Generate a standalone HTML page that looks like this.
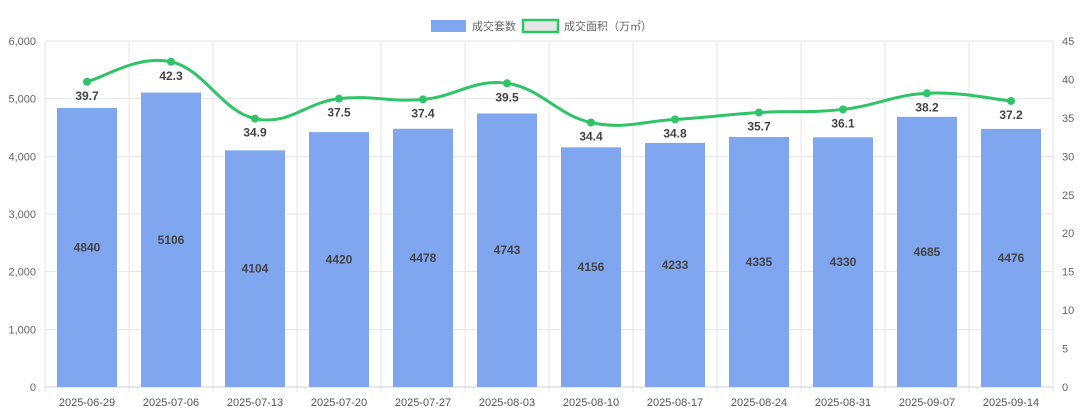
<!DOCTYPE html>
<html><head><meta charset="utf-8"><style>
body{margin:0;background:#fff;}
svg{display:block;font-family:"Liberation Sans","Noto Sans CJK SC",sans-serif;}
</style></head><body>
<svg id="c" width="1080" height="416">
<g id="legend">
<g><rect x="431" y="20" width="35" height="12" fill="#7fa6ee"/><text x="472" y="30" font-size="11" fill="#666">成交套数</text></g>
<g><rect x="523" y="20" width="35" height="12" fill="#e3e6e4" stroke="#2ec467" stroke-width="2.5"/><text x="564" y="30" font-size="11" fill="#666">成交面积（万㎡）</text></g>
</g>
</svg>
<script>
const categories=["2025-06-29","2025-07-06","2025-07-13","2025-07-20","2025-07-27","2025-08-03","2025-08-10","2025-08-17","2025-08-24","2025-08-31","2025-09-07","2025-09-14"];
const units=[4840,5106,4104,4420,4478,4743,4156,4233,4335,4330,4685,4476];
const area=[39.7,42.3,34.9,37.5,37.4,39.5,34.4,34.8,35.7,36.1,38.2,37.2];
const leftTicks=[0,1000,2000,3000,4000,5000,6000];
const rightTicks=[0,5,10,15,20,25,30,35,40,45];
const L=45,R=1053,T=41,B=387;
const svg=document.getElementById('c');
const NS="http://www.w3.org/2000/svg";
const band=(R-L)/categories.length;
const xc=i=>L+band*(i+0.5);
const yL=v=>B-(v/6000)*(B-T);
const yR=v=>B-(v/45)*(B-T);
function mk(t,a,p){const e=document.createElementNS(NS,t);for(const k in a)e.setAttribute(k,a[k]);(p||svg).appendChild(e);return e;}
const grid=mk('g',{});


leftTicks.forEach(v=>{
  mk('line',{x1:L,x2:R,y1:yL(v),y2:yL(v),stroke:'#e6e6e6'},grid);
  const t=mk('text',{x:L-9,y:yL(v)+4,'text-anchor':'end','font-size':11,fill:'#666'});
  
  
  t.textContent=v.toLocaleString('en-US');
});
rightTicks.forEach(v=>{
  const t=mk('text',{x:R+9,y:yR(v)+4,'text-anchor':'start','font-size':11,fill:'#666'});
  
  
  t.textContent=v;
});
for(let i=0;i<=categories.length;i++)mk('line',{x1:L+band*i,x2:L+band*i,y1:T,y2:B+5,stroke:'#e6e6e6'},grid);
mk('line',{x1:L,x2:R,y1:B,y2:B,stroke:'#d0d0d0'},grid);
categories.forEach((c,i)=>{
  const t=mk('text',{x:xc(i),y:406,'text-anchor':'middle','font-size':11,fill:'#555'});
  
  
  t.textContent=c;
});
const bw=60;
units.forEach((v,i)=>{
  const r=mk('rect',{x:xc(i)-bw/2,y:yL(v),width:bw,height:B-yL(v),fill:'#7fa6ee'});
  
  
  const t=mk('text',{x:xc(i),y:(yL(v)+B)/2+4,'text-anchor':'middle','font-size':12,'font-weight':'bold',fill:'#444'});
  
  
  t.textContent=v;
});
const pts=area.map((v,i)=>[xc(i),yR(v)]);
let d=`M${pts[0][0]},${pts[0][1]}`;
const k=0.2;
for(let i=0;i<pts.length-1;i++){
  const p0=pts[Math.max(i-1,0)],p1=pts[i],p2=pts[i+1],p3=pts[Math.min(i+2,pts.length-1)];
  d+=` C${p1[0]+(p2[0]-p0[0])*k},${p1[1]+(p2[1]-p0[1])*k} ${p2[0]-(p3[0]-p1[0])*k},${p2[1]-(p3[1]-p1[1])*k} ${p2[0]},${p2[1]}`;
}
const line=mk('path',{d:d,fill:'none',stroke:'#2ec467','stroke-width':3});


area.forEach((v,i)=>{
  const c=mk('circle',{cx:pts[i][0],cy:pts[i][1],r:4,fill:'#2ec467'});
  
  
  const t=mk('text',{x:pts[i][0],y:pts[i][1]+18,'text-anchor':'middle','font-size':12,'font-weight':'bold',fill:'#444'});
  
  
  t.textContent=v.toFixed(1);
});
</script>
</body></html>
